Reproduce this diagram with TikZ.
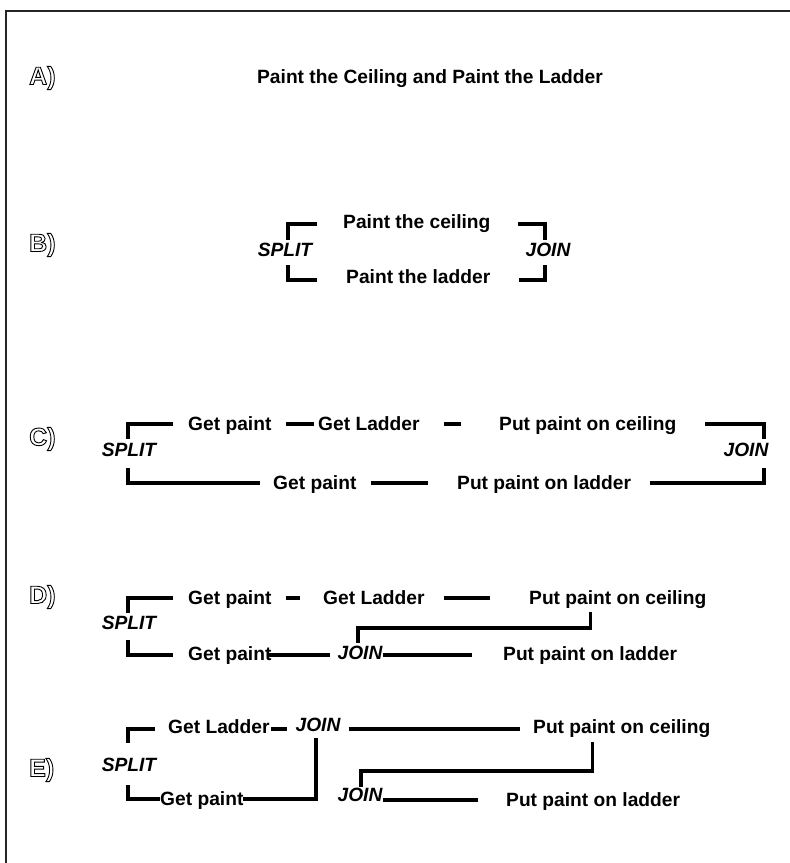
\documentclass[tikz,border=0pt]{standalone}
\usepackage{fontspec}
\setmainfont{Liberation Sans}
\usetikzlibrary{calc}
\newcommand{\outltext}[1]{\special{pdf:literal direct 0 G 2 Tr 0.9 w}#1\special{pdf:literal direct 0 Tr 0.4 w}}
\tikzset{
  txt/.style={inner sep=0pt, text height=13.8pt, text depth=0pt, anchor=west,
    font=\fontsize{19.2}{22}\selectfont\bfseries},
  itx/.style={txt, anchor=center, font=\fontsize{19.2}{22}\selectfont\bfseries\itshape},
  conn/.style={line width=3.2pt, line join=miter},
  lab/.style={inner sep=0pt, anchor=west, text=white, font=\fontsize{25}{27}\selectfont\bfseries},
}
\begin{document}
\begin{tikzpicture}[x=1pt,y=-1pt]
\useasboundingbox (0,0) rectangle (790,863);
\draw[line width=1.6pt, black!85] (6,863) -- (6,11) -- (790,11);

% A
\node[txt, anchor=center] (title) at (430,77) {Paint the Ceiling and Paint the Ladder};

% B
\node[itx] (splitB) at (285,250) {SPLIT};
\node[txt] (ceilB) at (343,222) {Paint the ceiling};
\node[txt] (ladB) at (346,277) {Paint the ladder};
\node[itx] (joinB) at (548,250) {JOIN};
\draw[conn] ([xshift=-26pt,yshift=-2pt]ceilB.west) -| ([xshift=3pt,yshift=3pt]splitB.north);
\draw[conn] ([xshift=3pt,yshift=-8pt]splitB.south) |- ([xshift=-29pt,yshift=-3pt]ladB.west);
\draw[conn] ([xshift=27pt,yshift=-2pt]ceilB.east) -| ([xshift=-3pt,yshift=3pt]joinB.north);
\draw[conn] ([xshift=-3pt,yshift=-8pt]joinB.south) |- ([xshift=29pt,yshift=-3pt]ladB.east);

% C
\node[itx] (splitC) at (129,450) {SPLIT};
\node[txt] (gpC) at (188,424) {Get paint};
\node[txt] (glC) at (318,424) {Get Ladder};
\node[txt] (pcC) at (499,424) {Put paint on ceiling};
\node[itx] (joinC) at (746,450) {JOIN};
\node[txt] (gp2C) at (273,483) {Get paint};
\node[txt] (plC) at (457,483) {Put paint on ladder};
\draw[conn] ([xshift=-1pt,yshift=4pt]splitC.north) |- ([xshift=-15pt]gpC.west);
\draw[conn] ([xshift=14pt]gpC.east) -- ([xshift=-4pt]glC.west);
\draw[conn] ([xshift=24pt]glC.east) -- ([xshift=-38pt]pcC.west);
\draw[conn] ([xshift=29pt]pcC.east) -| ([xshift=18pt,yshift=4pt]joinC.north);
\draw[conn] ([xshift=-1pt,yshift=-11pt]splitC.south) |- ([xshift=-13pt]gp2C.west);
\draw[conn] ([xshift=14pt]gp2C.east) -- ([xshift=-29pt]plC.west);
\draw[conn] ([xshift=19pt]plC.east) -| ([xshift=18pt,yshift=-11pt]joinC.south);

% D
\node[itx] (splitD) at (129,623) {SPLIT};
\node[txt] (gpD) at (188,598) {Get paint};
\node[txt] (glD) at (323,598) {Get Ladder};
\node[txt] (pcD) at (529,598) {Put paint on ceiling};
\node[txt] (gp2D) at (188,654) {Get paint};
\node[itx] (joinD) at (360,653) {JOIN};
\node[txt] (plD) at (503,654) {Put paint on ladder};
\draw[conn] ([xshift=-1pt,yshift=3pt]splitD.north) |- ([xshift=-15pt]gpD.west);
\draw[conn] ([xshift=14pt]gpD.east) -- ([xshift=-23pt]glD.west);
\draw[conn] ([xshift=19pt]glD.east) -- ([xshift=-39pt]pcD.west);
\draw[conn] ([xshift=-1pt,yshift=-10pt]splitD.south) |- ([xshift=-15pt,yshift=-1pt]gp2D.west);
\draw[conn] ([xshift=-3pt,yshift=-1pt]gp2D.east) -- ([xshift=-7pt,yshift=-2pt]joinD.west);
\draw[conn] ([yshift=-2pt]joinD.east) -- ([xshift=-31pt,yshift=-1pt]plD.west);
\draw[conn] ([xshift=-27pt,yshift=-7pt]pcD.south) |- ([xshift=-2pt,yshift=18pt]joinD.north) -- ([xshift=-2pt,yshift=3pt]joinD.north);

% E
\node[itx] (splitE) at (129,765) {SPLIT};
\node[txt] (glE) at (168,727) {Get Ladder};
\node[itx] (joinE1) at (318,725) {JOIN};
\node[txt] (pcE) at (533,727) {Put paint on ceiling};
\node[txt] (gpE) at (160,799) {Get paint};
\node[itx] (joinE2) at (360,795) {JOIN};
\node[txt] (plE) at (506,800) {Put paint on ladder};
\draw[conn] ([xshift=-1pt,yshift=15pt]splitE.north) |- ([xshift=-13pt,yshift=-2pt]glE.west);
\draw[conn] ([xshift=1pt,yshift=-2pt]glE.east) -- ([xshift=-8pt,yshift=-4pt]joinE1.west);
\draw[conn] ([xshift=8pt,yshift=-4pt]joinE1.east) -- ([xshift=-13pt,yshift=-2pt]pcE.west);
\draw[conn] ([xshift=-2pt,yshift=-6pt]joinE1.south) |- ([xshift=-1pt]gpE.east);
\draw[conn] ([xshift=-1pt,yshift=-13pt]splitE.south) |- (gpE.west);
\draw[conn] ([yshift=-5pt]joinE2.east) -- ([xshift=-28pt]plE.west);
\draw[conn] ([xshift=-29.5pt,yshift=-8pt]pcE.south) |- ([xshift=1pt,yshift=17pt]joinE2.north) -- ([xshift=1pt,yshift=1pt]joinE2.north);

% labels
\node[lab] (labA) at (29,78) {\outltext{A)}};
\node[lab] (labB) at (29,245) {\outltext{B)}};
\node[lab] (labC) at (29,439) {\outltext{C)}};
\node[lab] (labD) at (29,597) {\outltext{D)}};
\node[lab] (labE) at (29,770) {\outltext{E)}};
\end{tikzpicture}
\end{document}
